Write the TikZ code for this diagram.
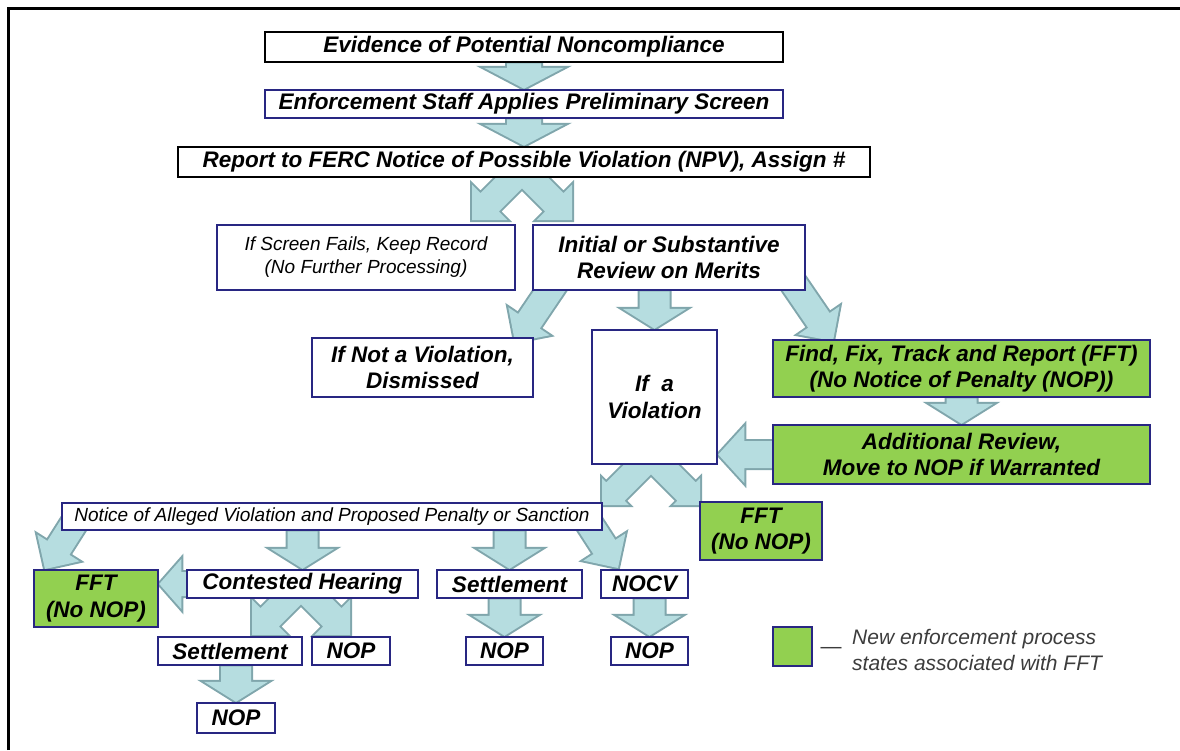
\documentclass[tikz,border=0pt]{standalone}
\usepackage{fontspec}
\setmainfont{Liberation Sans}
\usetikzlibrary{calc,backgrounds}

\definecolor{boxblue}{RGB}{40,38,130}
\definecolor{fftgreen}{RGB}{146,208,80}
\definecolor{arrowfill}{RGB}{182,221,224}
\definecolor{arrowedge}{RGB}{128,166,172}
\definecolor{keygray}{RGB}{60,60,60}

% start, tip, half shaft, half head, head length
\newcommand{\fatarm}[5]{($(#1)!#3!90:(#2)$) -- ($(#2)!#5!(#1)!#3!90:(#2)$) -- ($(#2)!#5!(#1)!#4!90:(#2)$) -- (#2)
  -- ($(#2)!#5!(#1)!#4!-90:(#2)$) -- ($(#2)!#5!(#1)!#3!-90:(#2)$) -- ($(#1)!#3!-90:(#2)$) -- cycle}
\newcommand{\downarm}[2]{\fatarm{#1}{#2}{15pt}{32pt}{20pt}}
\newcommand{\slantarm}[2]{\fatarm{#1}{#2}{13pt}{25pt}{25pt}}

\tikzset{
  box/.style={draw=boxblue, fill=white, line width=2.5pt, inner sep=0pt, align=center,
    font=\fontsize{22.5}{26.5}\selectfont\bfseries\itshape},
  blackbox/.style={box, draw=black},
  fftbox/.style={box, fill=fftgreen},
  thinbox/.style={box, font=\fontsize{19}{23}\selectfont\itshape},
  wh/.style 2 args={minimum width=#1, minimum height=#2},
  arrowline/.style={draw=arrowedge, fill=arrowfill, line width=4pt, line join=miter},
  arrowbody/.style={fill=arrowfill}
}

\begin{document}
\begin{tikzpicture}[x=1pt,y=-1pt]
\useasboundingbox (0,0) rectangle (1180,750);
\draw[line width=3pt] (8,750) -- (8,8) -- (1180,8);

\node[blackbox, wh={518}{30}] (evid) at (524,47) {Evidence of Potential Noncompliance};
\node[box, wh={518}{28}] (staff) at (524,104) {Enforcement Staff Applies Preliminary Screen};
\node[blackbox, wh={692}{30}] (report) at (524,162) {Report to FERC Notice of Possible Violation (NPV), Assign \#};
\node[thinbox, wh={298}{65}] (screen) at (366,257.5) {If Screen Fails, Keep Record\\(No Further Processing)};
\node[box, wh={272}{65}] (review) at (669,257.5) {Initial or Substantive\\Review on Merits};
\node[box, wh={221}{59}] (dismiss) at (422.5,367.5) {If Not a Violation,\\Dismissed};
\node[box, wh={125}{134}] (viol) at (654.5,397) {If\ \ a\\Violation};
\node[fftbox, wh={377}{57}] (fftrep) at (961.5,368.5) {Find, Fix, Track and Report (FFT)\\(No Notice of Penalty (NOP))};
\node[fftbox, wh={377}{59}] (addrev) at (961.5,454.5) {Additional Review,\\Move to NOP if Warranted};
\node[thinbox, wh={540}{27}] (notice) at (332,516.5) {Notice of Alleged Violation and Proposed Penalty or Sanction};
\node[fftbox, wh={122}{58}] (fftright) at (761,531) {FFT\\(No NOP)};
\node[fftbox, wh={124}{57}] (fftleft) at (96,598.5) {FFT\\(No NOP)};
\node[box, wh={231}{28}] (hearing) at (302.5,584) {Contested Hearing};
\node[box, wh={145}{28}] (settleA) at (509.5,584) {Settlement};
\node[box, wh={87}{28}] (nocv) at (644.5,584) {NOCV};
\node[box, wh={144}{28}] (settleB) at (230,651) {Settlement};
\node[box, wh={78}{28}] (nopB) at (351,651) {NOP};
\node[box, wh={77}{28}] (nopA) at (504.5,651) {NOP};
\node[box, wh={77}{28}] (nopC) at (649.5,651) {NOP};
\node[box, wh={78}{30}] (nopD) at (236,718) {NOP};

\node[fftbox, wh={39}{39}] (key) at (792.5,646.5) {};
\node[text=keygray, font=\fontsize{21}{26}\selectfont] (keydash) at (831,650) {—};
\node[anchor=west, align=left, text=keygray, inner sep=0pt, font=\fontsize{21}{26}\selectfont\itshape] (keytext) at (852,650) {New enforcement process\\states associated with FFT};

\coordinate (rs1) at (532,160); \coordinate (rt1) at (472,220);
\coordinate (rs2) at (512,160); \coordinate (rt2) at (572,220);
\coordinate (ds) at (565,268); \coordinate (dt) at (515,342);
\coordinate (fs) at (783,268); \coordinate (ft) at (833,341);
\coordinate (vs1) at (672,435); \coordinate (vt1) at (602,505);
\coordinate (vs2) at (630,435); \coordinate (vt2) at (700,505);
\coordinate (ns1) at (78,517); \coordinate (nt1) at (45,569);
\coordinate (ns2) at (585,517); \coordinate (nt2) at (618,568);
\coordinate (hs1) at (302,585); \coordinate (ht1) at (252,635);
\coordinate (hs2) at (300,585); \coordinate (ht2) at (350,635);

\begin{scope}[on background layer]
\foreach \layer in {arrowline, arrowbody} {
  \path[\layer] \fatarm{evid.south}{staff.north}{17pt}{40pt}{21pt}
    \fatarm{staff.south}{report.north}{17pt}{40pt}{21pt}
    \slantarm{rs1}{rt1} \slantarm{rs2}{rt2}
    \slantarm{ds}{dt} \slantarm{fs}{ft}
    \downarm{viol.north |- review.south}{viol.north}
    \downarm{fftrep.south}{addrev.north}
    \fatarm{addrev.west}{viol.east |- addrev.west}{13.5pt}{28.5pt}{26pt}
    \fatarm{vs1}{vt1}{13pt}{19pt}{19pt} \fatarm{vs2}{vt2}{13pt}{19pt}{19pt}
    \slantarm{ns1}{nt1} \slantarm{ns2}{nt2}
    \downarm{notice.south -| hearing.north}{hearing.north}
    \downarm{notice.south -| settleA.north}{settleA.north}
    \fatarm{hearing.west}{fftleft.east |- hearing.west}{12pt}{25pt}{22pt}
    \slantarm{hs1}{ht1} \slantarm{hs2}{ht2}
    \downarm{settleB.south -| nopD.north}{nopD.north}
    \downarm{settleA.south -| nopA.north}{nopA.north}
    \downarm{nocv.south -| nopC.north}{nopC.north};
}
\end{scope}
\end{tikzpicture}
\end{document}
